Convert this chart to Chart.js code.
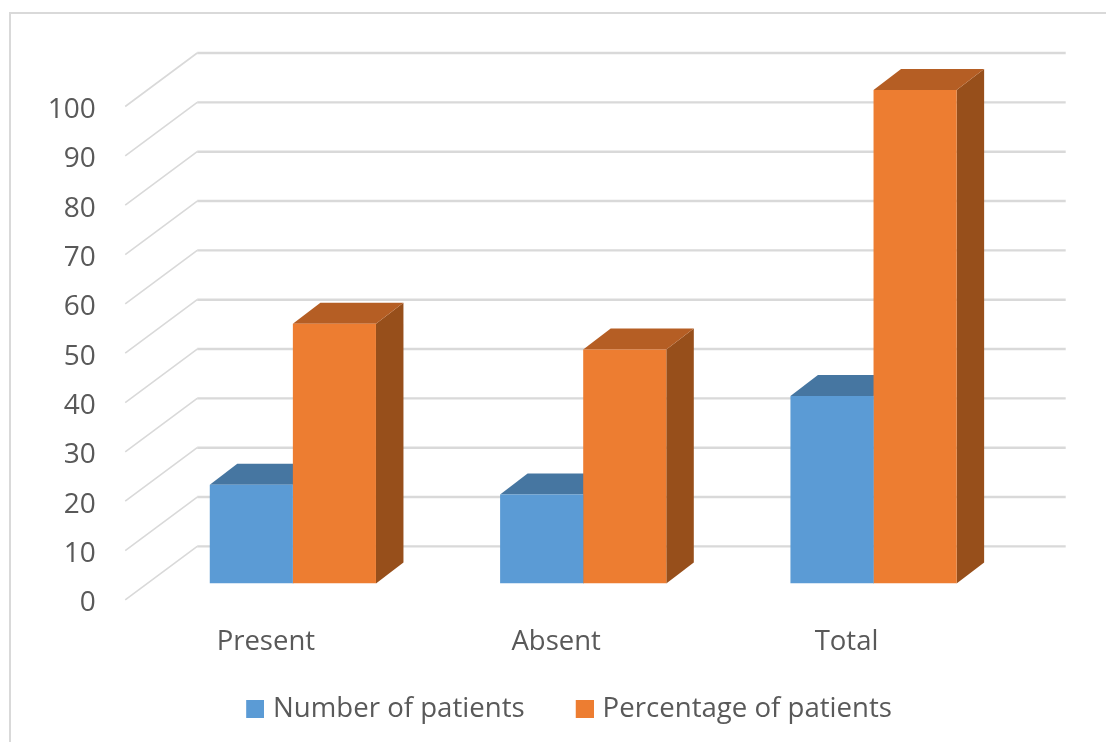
<!DOCTYPE html>
<html>
<head>
<meta charset="utf-8">
<style>
  html, body { margin: 0; padding: 0; background: #fff; overflow: hidden; }
  #wrap { position: relative; width: 1106px; height: 742px; }
  #frame { position: absolute; left: 9px; top: 12px; right: -4px; bottom: -4px;
           border-left: 2px solid #D9D9D9; border-top: 2px solid #D9D9D9; }
  canvas { position: absolute; left: 0; top: 0; }
</style>
<script src="https://cdn.jsdelivr.net/npm/chart.js@4/dist/chart.umd.min.js"></script>
</head>
<body>
<div id="wrap">
  <div id="frame"></div>
  <canvas id="chart" width="1106" height="742"></canvas>
</div>
<script>
const categories = ['Present', 'Absent', 'Total'];
const numberOfPatients = [20, 18, 38];
const percentageOfPatients = [52.6, 47.4, 100];
const tickValues = [0, 10, 20, 30, 40, 50, 60, 70, 80, 90, 100];

const BLUE = '#5B9BD5';
const ORANGE = '#ED7D31';
const TEXT = '#595959';
const FONT = '"Open Sans", sans-serif';

// Offsets of the pseudo-3D box, relative to the plotted bar plane
const BAR_DEPTH = { x: 27.5, y: -21 };
const WALL = { left: -22.5, leftDrop: 16.5, backLeft: 49.5, backRight: 47, backRise: -37 };

function poly(ctx, pts, fill) {
  ctx.beginPath();
  pts.forEach((p, i) => i ? ctx.lineTo(p[0], p[1]) : ctx.moveTo(p[0], p[1]));
  ctx.closePath();
  ctx.fillStyle = fill;
  ctx.fill();
}

// Legend marker: a square at the right end of a transparent strip, which
// sets both the spacing between items and the gap to the label text
function legendSwatch(color) {
  const c = document.createElement('canvas');
  c.width = 54;
  c.height = 18;
  const g = c.getContext('2d');
  g.fillStyle = color;
  g.fillRect(36, 0, 18, 18);
  return c;
}

const depthPlugin = {
  id: 'depth',
  beforeDatasetsDraw(chart) {
    const { ctx, chartArea: area, scales: { y } } = chart;
    ctx.save();

    // Back wall lines with their diagonal run along the side wall
    ctx.strokeStyle = '#D9D9D9';
    tickValues.forEach(v => {
      const py = y.getPixelForValue(v);
      const bx = area.left + WALL.backLeft, by = py + WALL.backRise;
      ctx.lineWidth = 1.6;
      ctx.beginPath();
      ctx.moveTo(area.left + WALL.left, py + WALL.leftDrop);
      ctx.lineTo(bx, by);
      ctx.stroke();
      ctx.lineWidth = 2.4;
      ctx.beginPath();
      ctx.moveTo(bx, by);
      ctx.lineTo(area.right + WALL.backRight, by);
      ctx.stroke();
    });

    // Top and side faces of every bar
    const shades = [
      { top: '#4676A1', side: '#38608A' },
      { top: '#B55E24', side: '#974F1B' }
    ];
    chart.data.datasets.forEach((ds, di) => {
      chart.getDatasetMeta(di).data.forEach(bar => {
        const l = bar.x - bar.width / 2, r = bar.x + bar.width / 2;
        const t = bar.y, b = bar.base, dx = BAR_DEPTH.x, dy = BAR_DEPTH.y;
        poly(ctx, [[r, t], [r + dx, t + dy], [r + dx, b + dy], [r, b]], shades[di].side);
        poly(ctx, [[l, t], [l + dx, t + dy], [r + dx, t + dy], [r, t]], shades[di].top);
      });
    });
    ctx.restore();
  }
};

new Chart(document.getElementById('chart'), {
  type: 'bar',
  data: {
    labels: categories,
    datasets: [
      { label: 'Number of patients', data: numberOfPatients, backgroundColor: BLUE,
        barPercentage: 1, categoryPercentage: 0.5724 },
      { label: 'Percentage of patients', data: percentageOfPatients, backgroundColor: ORANGE,
        barPercentage: 1, categoryPercentage: 0.5724 }
    ]
  },
  plugins: [depthPlugin],
  options: {
    responsive: false,
    animation: false,
    layout: { padding: { left: 1, right: 0, top: 90, bottom: 9 } },
    plugins: {
      tooltip: { enabled: false },
      legend: {
        display: true,
        position: 'bottom',
        labels: {
          usePointStyle: true,
          pointStyleWidth: 44.2,
          padding: 20,
          color: TEXT,
          font: { family: FONT, size: 27.6 },
          generateLabels(chart) {
            const items = Chart.defaults.plugins.legend.labels.generateLabels(chart);
            items.forEach(item => {
              item.pointStyle = legendSwatch(chart.data.datasets[item.datasetIndex].backgroundColor);
            });
            return items;
          }
        }
      }
    },
    scales: {
      x: {
        grid: { display: false, drawTicks: false },
        border: { display: false },
        afterFit(s) { s.height = 92; },
        ticks: { color: TEXT, font: { family: FONT, size: 27.5 }, padding: 42, labelOffset: -27, maxRotation: 0 }
      },
      y: {
        min: 0,
        max: 100,
        afterFit(s) { s.width = 146.7; },
        afterBuildTicks(s) { s.ticks = tickValues.map(value => ({ value })); },
        grid: { display: false, drawTicks: false },
        border: { display: false },
        ticks: { color: TEXT, font: { family: FONT, size: 28 }, padding: 52, labelOffset: 20 }
      },
      // Empty right-hand axis that reserves the depth margin beside the plot
      depthMargin: {
        position: 'right',
        min: 0,
        max: 100,
        afterFit(s) { s.width = 87.3; },
        grid: { display: false, drawTicks: false },
        border: { display: false },
        ticks: { display: false }
      }
    }
  }
});
</script>
</body>
</html>
